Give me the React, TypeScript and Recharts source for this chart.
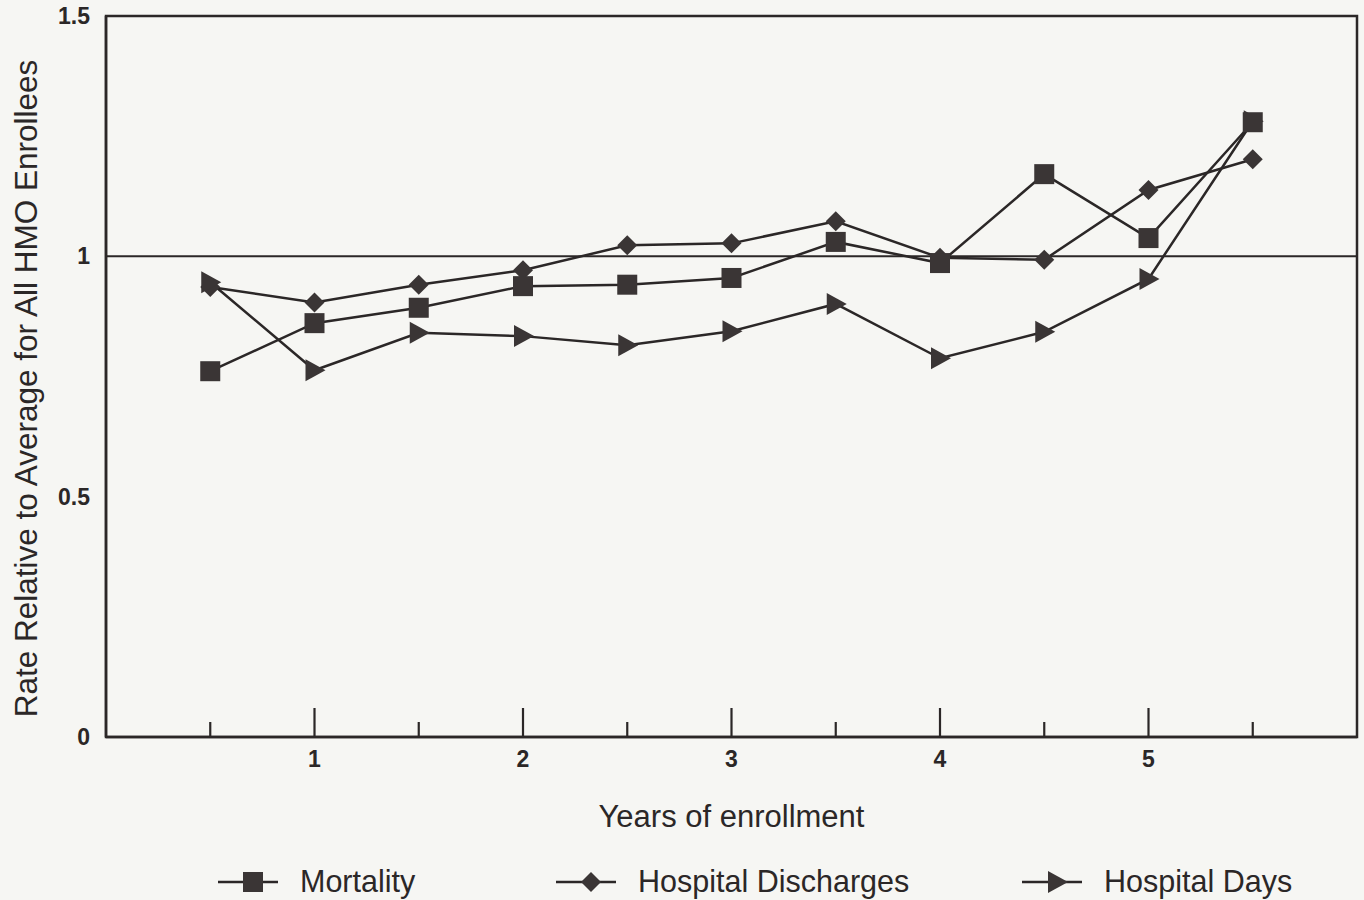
import React from 'react';
import { ComposedChart, Line, XAxis, YAxis, ReferenceLine, ReferenceArea } from 'recharts';

const years = [0.5, 1, 1.5, 2, 2.5, 3, 3.5, 4, 4.5, 5, 5.5];
const mortality = [0.761, 0.861, 0.893, 0.938, 0.941, 0.955, 1.03, 0.986, 1.171, 1.038, 1.279];
const discharges = [0.936, 0.904, 0.941, 0.971, 1.023, 1.027, 1.073, 0.997, 0.993, 1.138, 1.202];
const hospitalDays = [0.946, 0.763, 0.841, 0.834, 0.815, 0.844, 0.901, 0.788, 0.843, 0.953, 1.281];
const xTicks = [0.5, 1, 1.5, 2, 2.5, 3, 3.5, 4, 4.5, 5, 5.5];
const yTicks = [0, 0.5, 1, 1.5];

const data = years.map((year, i) => ({
  year,
  mortality: mortality[i],
  discharges: discharges[i],
  days: hospitalDays[i],
}));

const FONT = '"Liberation Sans", Arial, Helvetica, sans-serif';
const INK = '#2b2727';
const MARK = '#3a3535';
const BG = '#f6f6f3';

const Square = ({ cx, cy }: any) => (
  <rect x={cx - 10} y={cy - 10} width={20} height={20} fill={MARK} />
);

const Diamond = ({ cx, cy }: any) => (
  <polygon points={`${cx},${cy - 10} ${cx + 10},${cy} ${cx},${cy + 10} ${cx - 10},${cy}`} fill={MARK} />
);

const Arrow = ({ cx, cy }: any) => (
  <polygon points={`${cx - 9},${cy - 11} ${cx + 11},${cy} ${cx - 9},${cy + 11}`} fill={MARK} />
);

const XTick = ({ x, y, payload }: any) => {
  const v = payload.value;
  const major = Number.isInteger(v);
  return (
    <g>
      <line x1={x} x2={x} y1={y} y2={y - (major ? 29 : 15)} stroke={INK} strokeWidth={2.2} />
      {major && (
        <text x={x} y={y + 30} textAnchor="middle" fontFamily={FONT} fontSize={23} fontWeight="bold" fill={INK}>
          {v}
        </text>
      )}
    </g>
  );
};

const YTick = ({ x, y, payload }: any) => (
  <text x={x} y={y + 8} textAnchor="end" fontFamily={FONT} fontSize={23} fontWeight="bold" fill={INK}>
    {payload.value}
  </text>
);

const legendItems = [
  { name: 'Mortality', x: 218, Icon: Square },
  { name: 'Hospital Discharges', x: 556, Icon: Diamond },
  { name: 'Hospital Days', x: 1022, Icon: Arrow },
];

export default function App() {
  return (
    <div style={{ position: 'absolute', left: 0, top: 0, width: 1364, height: 900, background: BG }}>
      <ComposedChart width={1364} height={900} data={data} margin={{ top: 16, right: 7, left: 0, bottom: 0 }}>
        <XAxis
          dataKey="year"
          type="number"
          domain={[0, 6]}
          ticks={xTicks}
          interval={0}
          height={163}
          tickSize={0}
          tickMargin={0}
          tickLine={false}
          axisLine={{ stroke: INK, strokeWidth: 2.5 }}
          tick={<XTick />}
          label={{
            content: ({ viewBox }: any) => (
              <text
                x={viewBox.x + viewBox.width / 2}
                y={viewBox.y + 90}
                textAnchor="middle"
                fontFamily={FONT}
                fontSize={31}
                fill={INK}
              >
                Years of enrollment
              </text>
            ),
          }}
        />
        <YAxis
          type="number"
          domain={[0, 1.5]}
          ticks={yTicks}
          width={106}
          tickSize={0}
          tickMargin={16}
          tickLine={false}
          axisLine={{ stroke: INK, strokeWidth: 2.5 }}
          tick={<YTick />}
          label={{
            content: ({ viewBox }: any) => (
              <text
                transform={`translate(37, ${viewBox.y + viewBox.height / 2 + 12}) rotate(-90)`}
                textAnchor="middle"
                fontFamily={FONT}
                fontSize={31.5}
                fill={INK}
              >
                Rate Relative to Average for All HMO Enrollees
              </text>
            ),
          }}
        />
        <ReferenceArea x1={0} x2={6} y1={0} y2={1.5} fill="none" stroke={INK} strokeWidth={2.5} />
        <ReferenceLine y={1} stroke={INK} strokeWidth={2} />
        <Line
          type="linear"
          dataKey="discharges"
          stroke={INK}
          strokeWidth={2.5}
          isAnimationActive={false}
          dot={(p: any) => <Diamond key={`d-${p.index}`} cx={p.cx} cy={p.cy} />}
        />
        <Line
          type="linear"
          dataKey="days"
          stroke={INK}
          strokeWidth={2.5}
          isAnimationActive={false}
          dot={(p: any) => <Arrow key={`h-${p.index}`} cx={p.cx} cy={p.cy} />}
        />
        <Line
          type="linear"
          dataKey="mortality"
          stroke={INK}
          strokeWidth={2.5}
          isAnimationActive={false}
          dot={(p: any) => <Square key={`m-${p.index}`} cx={p.cx} cy={p.cy} />}
        />
      </ComposedChart>
      <svg width={1364} height={50} style={{ position: 'absolute', left: 0, top: 857 }}>
        {legendItems.map(({ name, x, Icon }) => (
          <g key={name}>
            <line x1={x} x2={x + 60} y1={25} y2={25} stroke={INK} strokeWidth={2.5} />
            <Icon cx={x + 35} cy={25} />
            <text x={x + 82} y={35} fontFamily={FONT} fontSize={30.5} fill={INK}>
              {name}
            </text>
          </g>
        ))}
      </svg>
    </div>
  );
}
